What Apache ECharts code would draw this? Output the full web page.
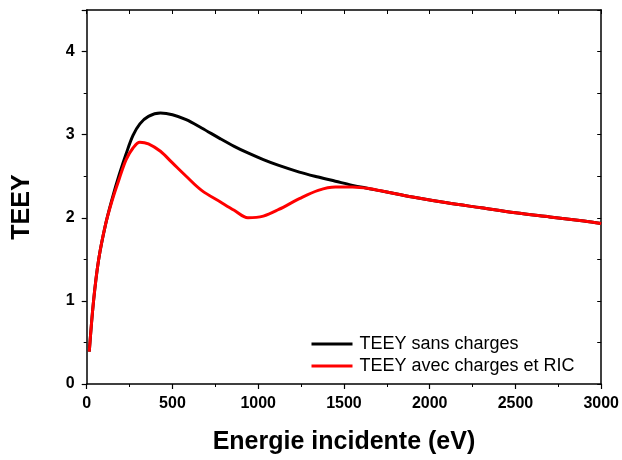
<!DOCTYPE html>
<html>
<head>
<meta charset="utf-8">
<script src="https://cdn.jsdelivr.net/npm/echarts@6/dist/echarts.min.js"></script>
<style>html,body{margin:0;padding:0;background:#fff;}#c{width:622px;height:460px;}</style>
</head>
<body>
<div id="c"></div>
<script>
const energy = [15, 40, 70, 110, 150, 190, 230, 270, 310, 360, 430, 500, 580, 670, 780, 860, 940, 1030, 1120, 1240, 1350, 1450, 1550, 1650, 1750, 1900, 2100, 2300, 2500, 2700, 2900, 3000];
const teeySansCharges = [0.39, 1.00, 1.50, 1.92, 2.24, 2.52, 2.77, 2.99, 3.13, 3.22, 3.26, 3.24, 3.18, 3.08, 2.95, 2.86, 2.78, 2.70, 2.63, 2.55, 2.49, 2.44, 2.39, 2.35, 2.31, 2.25, 2.18, 2.12, 2.06, 2.01, 1.96, 1.93];
const teeyAvecCharges = [0.39, 1.00, 1.50, 1.92, 2.22, 2.47, 2.70, 2.84, 2.91, 2.89, 2.80, 2.66, 2.50, 2.33, 2.19, 2.09, 2.00, 2.02, 2.10, 2.23, 2.33, 2.37, 2.37, 2.35, 2.31, 2.25, 2.18, 2.12, 2.06, 2.01, 1.96, 1.93];
const seriesNames = ['TEEY sans charges', 'TEEY avec charges et RIC'];
const xTitle = 'Energie incidente (eV)';
const yTitle = 'TEEY';

const pair = (xs, ys) => xs.map((x, i) => [x, ys[i]]);
const font = 'Arial, "Liberation Sans", sans-serif';
const chart = echarts.init(document.getElementById('c'));
chart.setOption({
  animation: false,
  backgroundColor: '#fff',
  grid: { left: 86.7, right: 19.3, top: 10, bottom: 74.5, containLabel: false },
  legend: {
    orient: 'vertical', left: 306.5, top: 330, itemGap: 4, itemWidth: 41, itemHeight: 3,
    icon: 'rect',
    textStyle: { fontFamily: font, fontSize: 18, color: '#000', lineHeight: 18, padding: [0, 0, 0, 2] },
    data: seriesNames
  },
  xAxis: [{
    type: 'value', min: 0, max: 3000, interval: 500,
    name: xTitle, nameLocation: 'middle', nameGap: 46,
    nameTextStyle: { fontFamily: font, fontSize: 25, fontWeight: 'bold', color: '#000' },
    axisLine: { onZero: false, lineStyle: { color: '#000', width: 1.5 } },
    axisTick: { inside: false, length: 5, lineStyle: { color: '#000', width: 1.2 } },
    minorTick: { show: true, splitNumber: 2, length: 3, lineStyle: { color: '#000', width: 1 } },
    axisLabel: { fontFamily: font, fontSize: 16, fontWeight: 'bold', color: '#000', margin: 12,
                 formatter: v => String(v) },
    splitLine: { show: false }
  }, {
    type: 'value', position: 'top', min: 0, max: 3000, interval: 250,
    axisLine: { show: true, onZero: false, lineStyle: { color: '#000', width: 1.5 } },
    axisTick: { show: true, inside: true, length: 4, lineStyle: { color: '#000', width: 1 } },
    axisLabel: { show: false }, splitLine: { show: false }
  }],
  yAxis: [{
    type: 'value', min: 0, max: 4.5, interval: 1,
    name: yTitle, nameLocation: 'middle', nameGap: 52, nameRotate: 90,
    nameTextStyle: { fontFamily: font, fontSize: 25, fontWeight: 'bold', color: '#000', padding: [0, 20, 0, 0] },
    axisLine: { show: true, onZero: false, lineStyle: { color: '#000', width: 1.5 } },
    axisTick: { show: true, inside: false, length: 5, lineStyle: { color: '#000', width: 1.2 } },
    minorTick: { show: true, splitNumber: 2, length: 3, lineStyle: { color: '#000', width: 1 } },
    axisLabel: { fontFamily: font, fontSize: 16, fontWeight: 'bold', color: '#000', margin: 12,
                 showMaxLabel: false, formatter: v => String(v) },
    splitLine: { show: false }
  }, {
    type: 'value', position: 'right', min: 0, max: 4.5, interval: 0.5,
    axisLine: { show: true, onZero: false, lineStyle: { color: '#000', width: 1.5 } },
    axisTick: { show: true, inside: true, length: 4, lineStyle: { color: '#000', width: 1 } },
    axisLabel: { show: false }, splitLine: { show: false }
  }],
  series: [{
    name: seriesNames[0], type: 'line', smooth: 0.35, symbol: 'none',
    lineStyle: { color: '#000', width: 3 }, itemStyle: { color: '#000' },
    data: pair(energy, teeySansCharges), z: 2
  }, {
    name: seriesNames[1], type: 'line', smooth: 0.35, symbol: 'none',
    lineStyle: { color: '#ff0000', width: 3 }, itemStyle: { color: '#ff0000' },
    data: pair(energy, teeyAvecCharges), z: 3
  }, {
    name: 'frame', type: 'line', xAxisIndex: 1, yAxisIndex: 1, data: [], symbol: 'none',
    silent: true
  }]
});
</script>
</body>
</html>
